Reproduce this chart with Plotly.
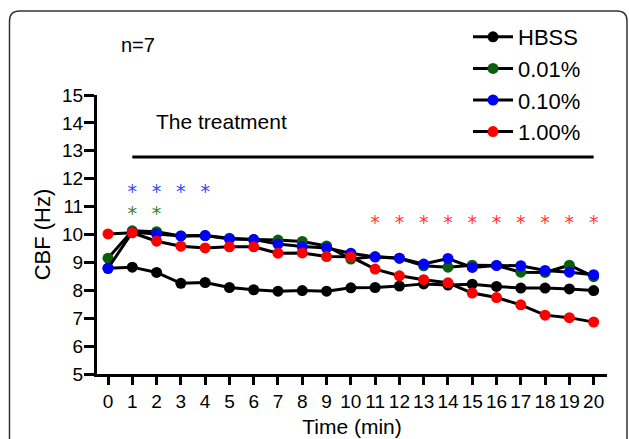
import plotly.graph_objects as go

# ---- data ----
time_min = list(range(21))
tick_labels = [str(t) for t in time_min]
hbss = [8.79, 8.83, 8.64, 8.25, 8.28, 8.10, 8.02, 7.97, 7.99, 7.97, 8.09,
        8.10, 8.15, 8.23, 8.19, 8.22, 8.14, 8.08, 8.08, 8.05, 7.99]
pct_001 = [9.15, 10.13, 10.10, 9.95, 9.96, 9.87, 9.82, 9.80, 9.75, 9.59, 9.12,
           9.21, 9.15, 8.88, 8.83, 8.90, 8.89, 8.65, 8.64, 8.90, 8.49]
pct_010 = [8.79, 10.08, 10.02, 9.95, 9.96, 9.84, 9.82, 9.66, 9.57, 9.52, 9.33,
           9.19, 9.15, 8.94, 9.14, 8.82, 8.89, 8.88, 8.71, 8.65, 8.56]
pct_100 = [10.02, 10.06, 9.76, 9.58, 9.52, 9.56, 9.56, 9.33, 9.34, 9.21, 9.20,
           8.76, 8.52, 8.38, 8.27, 7.90, 7.74, 7.48, 7.11, 7.02, 6.86]
series_names = ["HBSS", "0.01%", "0.10%", "1.00%"]
marker_colors = ["#000000", "#0b5e0b", "#0000ff", "#ff0000"]

# significance markers (time points)
sig_010_times = [1, 2, 3, 4]
sig_001_times = [1, 2]
sig_100_times = [11, 12, 13, 14, 15, 16, 17, 18, 19, 20]
sig_010_level = 11.48
sig_001_level = 10.70
sig_100_level = 10.38
treatment_start, treatment_end, treatment_level = 1, 20, 12.78

FONT = "Liberation Sans, Arial, sans-serif"
W, H = 629, 439
L, R, T, B = 97, 22, 95, 65
PW, PH = W - L - R, H - T - B


def px(xp):
    return (xp - L) / PW


def py(yp):
    return (H - B - yp) / PH


fig = go.Figure()
for name, vals, col in zip(series_names, [hbss, pct_001, pct_010, pct_100], marker_colors):
    fig.add_trace(go.Scatter(
        x=time_min, y=vals, name=name, mode="lines+markers",
        line=dict(color="black", width=3),
        marker=dict(color=col, size=11),
    ))

star_font = "DejaVu Sans"
for times, lvl, col in [(sig_010_times, sig_010_level, "#3344ff"),
                        (sig_001_times, sig_001_level, "#3d7d3d"),
                        (sig_100_times, sig_100_level, "#ff3b3b")]:
    fig.add_trace(go.Scatter(
        x=times, y=[lvl] * len(times), mode="text", text=["*"] * len(times),
        textposition="middle center",
        textfont=dict(family=star_font, size=19, color=col),
        showlegend=False, hoverinfo="skip",
    ))

# treatment bar
fig.add_shape(type="line", xref="x", yref="y", x0=treatment_start, x1=treatment_end,
              y0=treatment_level, y1=treatment_level,
              line=dict(color="black", width=3))

# outer rounded frame
x0, x1 = px(9.5), px(627)
y0, y1 = py(11), py(470)
rx, ry = 10 / PW, 10 / PH
path = (f"M {x0},{y1} L {x0},{y0 - ry} Q {x0},{y0} {x0 + rx},{y0} "
        f"L {x1 - rx},{y0} Q {x1},{y0} {x1},{y0 - ry} L {x1},{y1}")
fig.add_shape(type="path", xref="paper", yref="paper", path=path,
              line=dict(color="#333333", width=1.5), layer="below")

fig.add_annotation(x=4.66, y=14.05, xref="x", yref="y", text="The treatment",
                   showarrow=False, font=dict(family=FONT, size=21, color="black"))
fig.add_annotation(x=px(138), y=py(45), xref="paper", yref="paper", text="n=7",
                   xanchor="center", yanchor="middle",
                   showarrow=False, font=dict(family=FONT, size=20, color="black"))

fig.update_layout(
    width=W, height=H,
    margin=dict(l=L, r=R, t=T, b=B, autoexpand=False),
    paper_bgcolor="white", plot_bgcolor="white",
    font=dict(family=FONT, color="black"),
    showlegend=True,
    legend=dict(x=px(468), y=py(16), xanchor="left", yanchor="top",
                font=dict(family=FONT, size=22, color="black"),
                bgcolor="rgba(0,0,0,0)", itemwidth=40),
)
fig.update_xaxes(
    range=[-0.454, 20.55], tickmode="array", tickvals=time_min, ticktext=tick_labels,
    showline=True, linecolor="black", linewidth=3, ticks="outside", ticklen=8,
    tickwidth=3, tickcolor="black", showgrid=False, zeroline=False, automargin=False,
    tickfont=dict(family=FONT, size=19, color="black"),
    title=dict(text="Time (min)", font=dict(family=FONT, size=21, color="black"), standoff=9),
)
fig.update_yaxes(
    range=[5, 15], tickmode="linear", tick0=5, dtick=1,
    showline=True, linecolor="black", linewidth=3, ticks="outside", ticklen=10,
    tickwidth=3, tickcolor="black", showgrid=False, zeroline=False, automargin=False,
    ticklabelstandoff=-3,
    tickfont=dict(family=FONT, size=19, color="black"),
    title=dict(text="CBF (Hz)", font=dict(family=FONT, size=22, color="black"), standoff=6),
)

fig.write_html("out.html", config={"displayModeBar": False},
               post_script="document.body.style.margin='0px';")
